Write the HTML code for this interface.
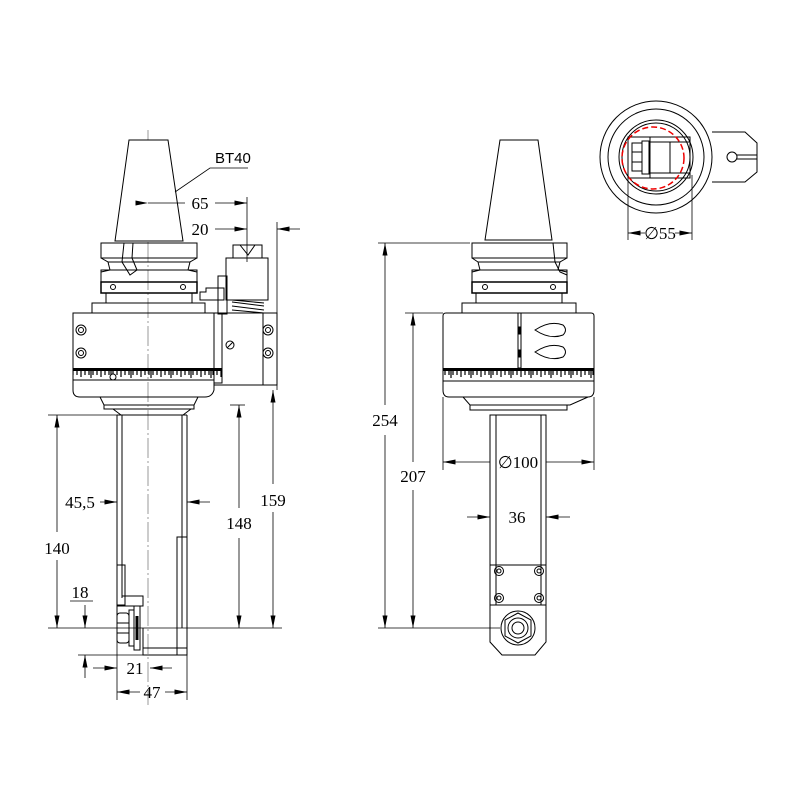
<!DOCTYPE html>
<html><head><meta charset="utf-8"><style>html,body{margin:0;padding:0;background:#fff}svg{display:block}</style></head><body>
<svg width="800" height="800" viewBox="0 0 800 800" xmlns="http://www.w3.org/2000/svg" font-family="Liberation Serif, serif" font-size="17">
<defs>
<marker id="a" viewBox="0 0 10 4" refX="10" refY="2" markerWidth="14" markerHeight="5" markerUnits="userSpaceOnUse" orient="auto"><path d="M0,0L10,2L0,4z" fill="#000"/></marker>
<pattern id="tk" x="0" y="368" width="20" height="12" patternUnits="userSpaceOnUse">
<rect x="0" y="0" width="20" height="3" fill="#000"/>
<path d="M1,3V9M5,3V7M9,3V7M13,3V7M17,3V7" stroke="#000" stroke-width="1.2"/>
<path d="M11,3V10" stroke="#000" stroke-width="1.2"/>
</pattern>
</defs>
<g fill="none" stroke="#000" stroke-width="1">
<!-- LEFT VIEW -->
<line x1="148" y1="130" x2="148" y2="705" stroke="#999" stroke-dasharray="20,3,2,3"/>
<polygon points="129,140 168,140 183,241 115,241" fill="#fff"/>
<rect x="101" y="243" width="96" height="15"/>
<path d="M101,258 L108,262 L110,270 L101,272 M197,258 L190,262 L188,270 L197,272 M108,262 L190,262"/>
<rect x="101" y="270" width="96" height="12"/>
<rect x="101" y="282" width="96" height="11" stroke-width="1.5"/>
<circle cx="113" cy="287" r="2.5"/><circle cx="183" cy="287" r="2.5"/>
<rect x="106" y="293" width="86" height="10"/>
<rect x="92" y="303" width="113" height="10"/>
<path d="M124,243 L122,262 L130,275 L137,270 L132,258 L133,243"/>
<path d="M73,313 L222,313 L222,383 L214,383 L214,390 Q212,397 205,397 L80,397 Q73,397 73,390 Z"/>
<rect x="73" y="368" width="149" height="12" fill="url(#tk)" stroke="none"/>
<circle cx="113" cy="377" r="3" fill="#fff"/>
<line x1="73" y1="380" x2="214" y2="380"/>
<circle cx="81" cy="330" r="5"/><circle cx="81" cy="330" r="2.5"/>
<circle cx="81" cy="353" r="5"/><circle cx="81" cy="353" r="2.5"/>
<rect x="214" y="313" width="63" height="72"/>
<line x1="263" y1="313" x2="263" y2="385"/>
<circle cx="268" cy="330" r="5"/><circle cx="268" cy="330" r="2.5"/>
<circle cx="268" cy="353" r="5"/><circle cx="268" cy="353" r="2.5"/>
<circle cx="230" cy="345" r="4"/><line x1="227" y1="348" x2="233" y2="342"/>
<rect x="226" y="258" width="42" height="42"/>
<rect x="233" y="245" width="29" height="13"/>
<path d="M240,245 L248,255 L255,245"/>
<path d="M232,302 L264,306 M232,306 L264,310 M232,310 L264,313 M232,300 L264,303"/>
<rect x="218" y="276" width="9" height="38"/>
<path d="M200,292 L206,292 L206,288 L224,288 L224,300 L200,300 Z"/>
<path d="M100,397 L198,397 L194,405 L104,405 Z"/>
<rect x="104" y="405" width="90" height="4"/>
<path d="M117,415 L117,628 M187,415 L187,655 M122,415 L122,598 M182,415 L182,628 M117,415 L187,415 M113,409 L121,415 M191,409 L183,415"/>
<rect x="177" y="537" width="10" height="118"/>
<path d="M143,628 L143,655 L187,655 M143,648 L187,648"/>
<rect x="117" y="565" width="8" height="40"/>
<path d="M117,606 L143,606 L143,596 L122,596"/>
<rect x="117" y="613" width="12" height="30" rx="3"/>
<path d="M117,623 L129,623 M117,633 L129,633"/>
<rect x="129" y="610" width="5" height="36"/>
<rect x="134" y="606" width="6" height="44"/>
<line x1="137" y1="616" x2="137" y2="640" stroke-width="3"/>
<!-- left dims -->
<g stroke-width="0.8">
<path d="M175,192 L210,168 L248,168"/>
<line x1="148" y1="203" x2="185" y2="203" marker-start="url(#a)" marker-end="none"/>
<line x1="215" y1="203" x2="247" y2="203" marker-end="url(#a)"/>
<line x1="247" y1="197" x2="247" y2="262"/>
<line x1="215" y1="229" x2="247" y2="229" marker-end="url(#a)"/>
<line x1="300" y1="229" x2="277" y2="229" marker-end="url(#a)"/>
<line x1="277" y1="222" x2="277" y2="390"/>
<line x1="48" y1="415" x2="120" y2="415"/>
<line x1="48" y1="628" x2="282" y2="628"/>
<line x1="57" y1="532" x2="57" y2="415" marker-end="url(#a)"/>
<line x1="57" y1="560" x2="57" y2="628" marker-end="url(#a)"/>
<line x1="100" y1="502" x2="117" y2="502" marker-end="url(#a)"/>
<line x1="210" y1="502" x2="187" y2="502" marker-end="url(#a)"/>
<line x1="230" y1="405" x2="245" y2="405"/>
<line x1="239" y1="508" x2="239" y2="405" marker-end="url(#a)"/>
<line x1="239" y1="538" x2="239" y2="628" marker-end="url(#a)"/>
<line x1="273" y1="484" x2="273" y2="390" marker-end="url(#a)"/>
<line x1="273" y1="512" x2="273" y2="628" marker-end="url(#a)"/>
<path d="M70,601 L93,601"/>
<line x1="85" y1="605" x2="85" y2="628" marker-end="url(#a)"/>
<line x1="85" y1="678" x2="85" y2="655" marker-end="url(#a)"/>
<line x1="78" y1="655" x2="143" y2="655"/>
<line x1="93" y1="668" x2="117" y2="668" marker-end="url(#a)"/>
<line x1="172" y1="668" x2="150" y2="668" marker-end="url(#a)"/>
<line x1="117" y1="640" x2="117" y2="700"/>
<line x1="187" y1="655" x2="187" y2="700"/>
<line x1="140" y1="692" x2="117" y2="692" marker-end="url(#a)"/>
<line x1="165" y1="692" x2="187" y2="692" marker-end="url(#a)"/>
</g>
<!-- MIDDLE VIEW -->
<polygon points="500,140 538,140 552,240 485,240"/>
<rect x="472" y="243" width="95" height="15"/>
<path d="M472,258 L478,262 L480,270 L472,272 M567,258 L560,262 L558,270 L567,272 M478,262 L560,262"/>
<rect x="472" y="270" width="95" height="12"/>
<path d="M553,243 L555,262 L560,272 L567,275"/>
<rect x="472" y="282" width="95" height="11" stroke-width="1.5"/>
<circle cx="485" cy="287" r="2.5"/><circle cx="553" cy="287" r="2.5"/>
<rect x="476" y="293" width="86" height="10"/>
<rect x="462" y="303" width="114" height="10"/>
<path d="M443,316 Q443,313 446,313 L591,313 Q594,313 594,316 L594,390 Q594,397 588,397 L449,397 Q443,397 443,390 Z"/>
<rect x="518" y="313" width="3" height="55"/>
<rect x="518" y="327" width="3" height="7" fill="#000"/><rect x="518" y="350" width="3" height="7" fill="#000"/>
<path d="M535,330 Q550,320 563,325 Q568,330 563,335 Q550,340 535,330 Z"/>
<path d="M535,352 Q550,342 563,347 Q568,352 563,357 Q550,362 535,352 Z"/>
<rect x="443" y="368" width="151" height="12" fill="url(#tk)" stroke="none"/>
<line x1="443" y1="381" x2="594" y2="381"/>
<path d="M463,397 L588,397 L570,405 L470,405 Z"/>
<rect x="470" y="405" width="97" height="5"/>
<path d="M490,415 L490,642 L502,655 L535,655 L546,642 L546,415 Z M496,415 L496,565 M541,415 L541,565 M490,415 L546,415"/>
<rect x="490" y="565" width="56" height="40"/>
<path d="M496,565 L496,605 M541,565 L541,605"/>
<circle cx="499" cy="571" r="4.5"/><circle cx="499" cy="571" r="2"/>
<circle cx="539" cy="571" r="4.5"/><circle cx="539" cy="571" r="2"/>
<circle cx="499" cy="598" r="4.5"/><circle cx="499" cy="598" r="2"/>
<circle cx="539" cy="598" r="4.5"/><circle cx="539" cy="598" r="2"/>
<circle cx="518" cy="628" r="17"/>
<polygon points="518,613 531,620 531,636 518,643 505,636 505,620"/>
<circle cx="518" cy="628" r="10"/><circle cx="518" cy="628" r="6"/>
<g stroke-width="0.8">
<line x1="378" y1="243" x2="470" y2="243"/>
<line x1="405" y1="313" x2="443" y2="313"/>
<line x1="378" y1="628" x2="500" y2="628"/>
<line x1="385" y1="405" x2="385" y2="243" marker-end="url(#a)"/>
<line x1="385" y1="435" x2="385" y2="628" marker-end="url(#a)"/>
<line x1="413" y1="462" x2="413" y2="313" marker-end="url(#a)"/>
<line x1="413" y1="490" x2="413" y2="628" marker-end="url(#a)"/>
<line x1="443" y1="397" x2="443" y2="470"/>
<line x1="594" y1="397" x2="594" y2="470"/>
<line x1="490" y1="462" x2="443" y2="462" marker-end="url(#a)"/>
<line x1="546" y1="462" x2="594" y2="462" marker-end="url(#a)"/>
<line x1="467" y1="517" x2="490" y2="517" marker-end="url(#a)"/>
<line x1="570" y1="517" x2="546" y2="517" marker-end="url(#a)"/>
</g>
<!-- TOP VIEW -->
<circle cx="656" cy="157" r="56"/>
<circle cx="656" cy="157" r="48"/>
<circle cx="656" cy="157" r="37"/>
<circle cx="656" cy="157" r="34"/>
<path d="M712,132 L745,132 L757,143 L757,172 L745,182 L712,182"/>
<circle cx="732" cy="157" r="5"/>
<path d="M737,155 L757,155 M737,159 L757,159"/>
<rect x="628" y="137" width="62" height="41"/>
<path d="M650,137 L650,178 M670,142 L670,173 M650,142 L690,142 M650,173 L690,173"/>
<rect x="632" y="143" width="10" height="28"/>
<path d="M632,152 L642,152 M632,162 L642,162"/>
<rect x="642" y="141" width="7" height="33"/>
<circle cx="653" cy="158" r="31" stroke="#e00" stroke-width="1.5" stroke-dasharray="6,3"/>
<g stroke-width="0.8">
<line x1="628" y1="175" x2="628" y2="240"/>
<line x1="692" y1="175" x2="692" y2="240"/>
<line x1="645" y1="233" x2="628" y2="233" marker-end="url(#a)"/>
<line x1="675" y1="233" x2="692" y2="233" marker-end="url(#a)"/>
</g>
</g>
<g fill="#000" font-size="17">
<text x="215" y="163" font-family="Liberation Sans, sans-serif" font-size="15">BT40</text>
<text x="200" y="209" text-anchor="middle">65</text>
<text x="200" y="235" text-anchor="middle">20</text>
<text x="57" y="554" text-anchor="middle">140</text>
<text x="80" y="508" text-anchor="middle">45,5</text>
<text x="239" y="529" text-anchor="middle">148</text>
<text x="273" y="506" text-anchor="middle">159</text>
<text x="80" y="598" text-anchor="middle">18</text>
<text x="135" y="674" text-anchor="middle">21</text>
<text x="152" y="698" text-anchor="middle">47</text>
<text x="385" y="426" text-anchor="middle">254</text>
<text x="413" y="482" text-anchor="middle">207</text>
<text x="518" y="468" text-anchor="middle">∅100</text>
<text x="517" y="523" text-anchor="middle">36</text>
<text x="660" y="239" text-anchor="middle">∅55</text>
</g>
</svg>
</body></html>
